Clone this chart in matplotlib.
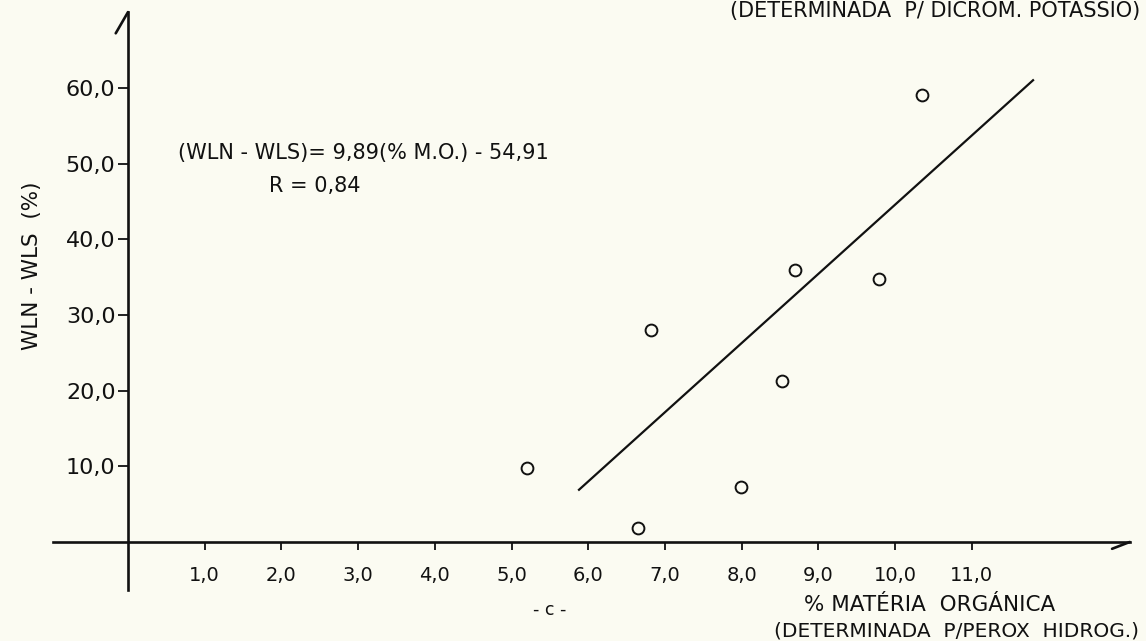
import matplotlib
matplotlib.use("Agg")
import matplotlib.pyplot as plt

# ---- data ----
mo_pct = [5.2, 6.65, 6.82, 7.99, 8.53, 8.70, 9.79, 10.35]      # % materia organica
wln_wls = [9.8, 1.9, 28.0, 7.3, 21.3, 35.9, 34.7, 59.0]         # WLN-WLS (%)
fit_x = [5.88, 11.8]
fit_y = [6.9, 61.0]

x_ticks = [1, 2, 3, 4, 5, 6, 7, 8, 9, 10, 11]
x_tick_labels = ["1,0", "2,0", "3,0", "4,0", "5,0", "6,0", "7,0", "8,0", "9,0", "10,0", "11,0"]
y_ticks = [10, 20, 30, 40, 50, 60]
y_tick_labels = ["10,0", "20,0", "30,0", "40,0", "50,0", "60,0"]

BG = "#fbfbf2"
INK = "#111111"
W, H = 1146, 641

plt.rcParams['font.family'] = ['DejaVu Sans']
fig = plt.figure(figsize=(W / 100, H / 100), dpi=100, facecolor=BG)
ax = fig.add_axes([0, 0, 1, 1], facecolor=BG)

# pixel -> data mapping: x0 at px 128, 76.7 px/unit; y0 at px 542, 7.57 px/unit
px_x = 76.7
px_y = 7.57
ax.set_xlim((0 - 128) / px_x, (W - 128) / px_x)
ax.set_ylim((542 - H) / px_y, 542 / px_y)

for s in ["top", "right"]:
    ax.spines[s].set_visible(False)
ax.spines["left"].set_position(("data", 0))
ax.spines["bottom"].set_position(("data", 0))
ax.spines["left"].set_bounds(-6.3, 70.0)
ax.spines["bottom"].set_bounds(-0.98, 13.06)
for s in ["left", "bottom"]:
    ax.spines[s].set_linewidth(1.9)
    ax.spines[s].set_color(INK)

# arrow barbs
ax.plot([0, -0.16], [70.0, 67.2], color=INK, lw=1.9, solid_capstyle="round")
ax.plot([13.06, 12.83], [0, -0.9], color=INK, lw=1.9, solid_capstyle="round")

ax.set_xticks(x_ticks)
ax.set_xticklabels(x_tick_labels)
ax.set_yticks(y_ticks)
ax.set_yticklabels(y_tick_labels)
ax.tick_params(axis="x", direction="out", length=6, width=1.3, color=INK,
               pad=11, labelsize=14, labelcolor=INK)
ax.tick_params(axis="y", direction="out", length=7, width=1.3, color=INK,
               pad=2, labelsize=16, labelcolor=INK)

# data
ax.plot(fit_x, fit_y, color=INK, lw=1.6)
ax.plot(mo_pct, wln_wls, linestyle="none", marker="o", markersize=8.5,
        markerfacecolor="none", markeredgecolor=INK, markeredgewidth=1.4)

# annotations (figure pixel coordinates)
def ftext(x, y, s, **kw):
    fig.text(x / W, 1 - y / H, s, color=INK, **kw)

ftext(363, 153, "(WLN - WLS)= 9,89(% M.O.) - 54,91", fontsize=15, ha="center", va="center")
ftext(315, 186, "R = 0,84", fontsize=15, ha="center", va="center")
ftext(32, 266, "WLN - WLS  (%)", fontsize=15.5, ha="center", va="center", rotation=90)
ftext(550, 610, "- c -", fontsize=12.5, ha="center", va="center")
ftext(930, 605, "% MATÉRIA  ORGÁNICA", fontsize=15.5, ha="center", va="center")
ftext(956, 631, "(DETERMINADA  P/PEROX  HIDROG.)", fontsize=14.5, ha="center", va="center")
ftext(1140, 11, "(DETERMINADA  P/ DICROM. POTASSIO)", fontsize=15, ha="right", va="center")

fig.savefig("out.png", dpi=100, facecolor=BG)
